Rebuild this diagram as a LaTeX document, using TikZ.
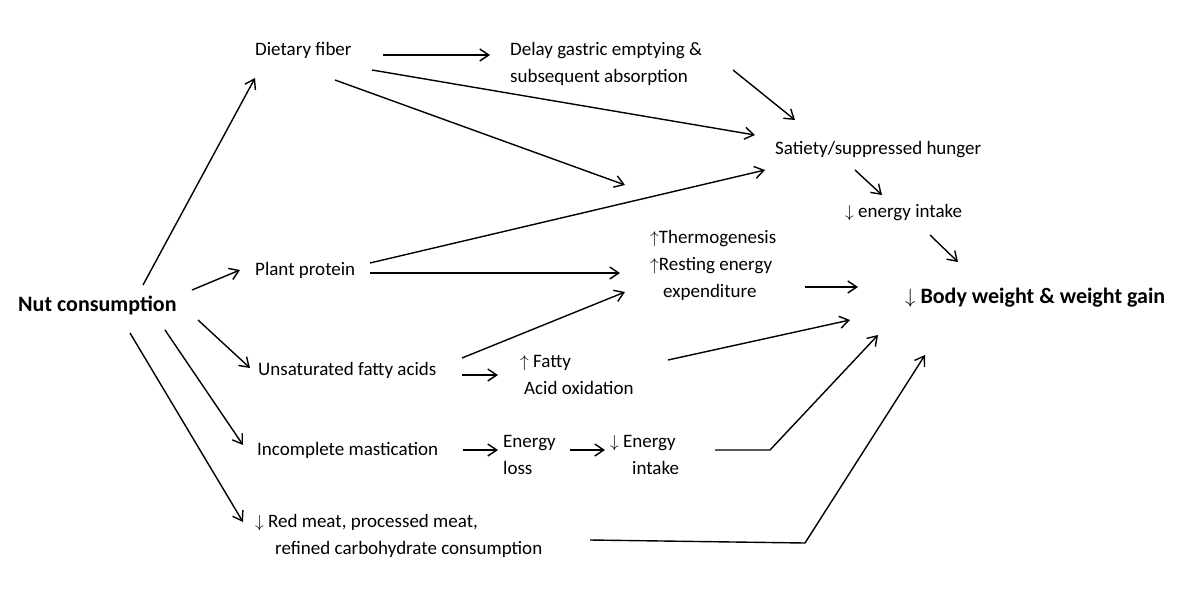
\documentclass[tikz,border=0pt]{standalone}
\usepackage{fontspec}
\setmainfont{Carlito}
\usetikzlibrary{arrows.meta}
\begin{document}
\begin{tikzpicture}[x=1pt,y=-1pt,
  t/.style={anchor=west,inner sep=0pt,font=\fontsize{19}{27}\selectfont,align=left},
  b/.style={anchor=west,inner sep=0pt,font=\fontsize{22}{27}\selectfont\bfseries},
  a/.style={-{Straight Barb[length=9pt,width=12pt]},line width=1.4pt}]
\useasboundingbox (0,0) rectangle (1200,600);
\node[b] (nut) at (18,305) {Nut consumption};
\node[t] (df) at (255,50) {Dietary fiber};
\node[t] (delay) at (510,64) {Delay gastric emptying \&\\subsequent absorption};
\node[t] (sat) at (775,150) {Satiety/suppressed hunger};
\node[t] (ei) at (845,213) {$\downarrow$ energy intake};
\node[t] (thermo) at (650,265) {$\uparrow$Thermogenesis\\$\uparrow$Resting energy\\\hspace{13pt}expenditure};
\node[b] (bw) at (905,298) {$\downarrow$ Body weight \& weight gain};
\node[t] (pp) at (255,270) {Plant protein};
\node[t] (ufa) at (258,370) {Unsaturated fatty acids};
\node[t] (fao) at (520,375) {$\uparrow$ Fatty\\\hspace{4pt}Acid oxidation};
\node[t] (im) at (257,450) {Incomplete mastication};
\node[t] (el) at (503,455) {Energy\\loss};
\node[t] (dei) at (610,455) {$\downarrow$ Energy\\\hspace{22pt}intake};
\node[t] (rm) at (255,536) {$\downarrow$ Red meat, processed meat,\\\hspace{20pt}refined carbohydrate consumption};
\coordinate (m1) at (625,185);
\coordinate (k1) at (770,450);
\coordinate (k2) at (805,543);
\draw[a] (143,285) -- (255,78);
\draw[a] (192,290) -- (240,270);
\draw[a] (198,320) -- (250,368);
\draw[a] (165,330) -- (243,445);
\draw[a] (130,333) -- (243,522);
\draw[a] (383,55) -- (490,55);
\draw[a] (372,70) -- (755,135);
\draw[a] (335,80) -- (m1);
\draw[a] (733,70) -- (795,120);
\draw[a] (370,263) -- (765,170);
\draw[a] (370,273) -- (620,273);
\draw[a] (462,358) -- (625,292);
\draw[a] (462,375) -- (498,375);
\draw[a] (855,170) -- (882,195);
\draw[a] (930,235) -- (958,262);
\draw[a] (805,287) -- (858,287);
\draw[a] (668,360) -- (850,320);
\draw[a] (463,450) -- (498,450);
\draw[a] (570,450) -- (605,450);
\draw[a] (715,450) -- (k1) -- (878,335);
\draw[a] (590,540) -- (k2) -- (925,355);
\end{tikzpicture}
\end{document}
